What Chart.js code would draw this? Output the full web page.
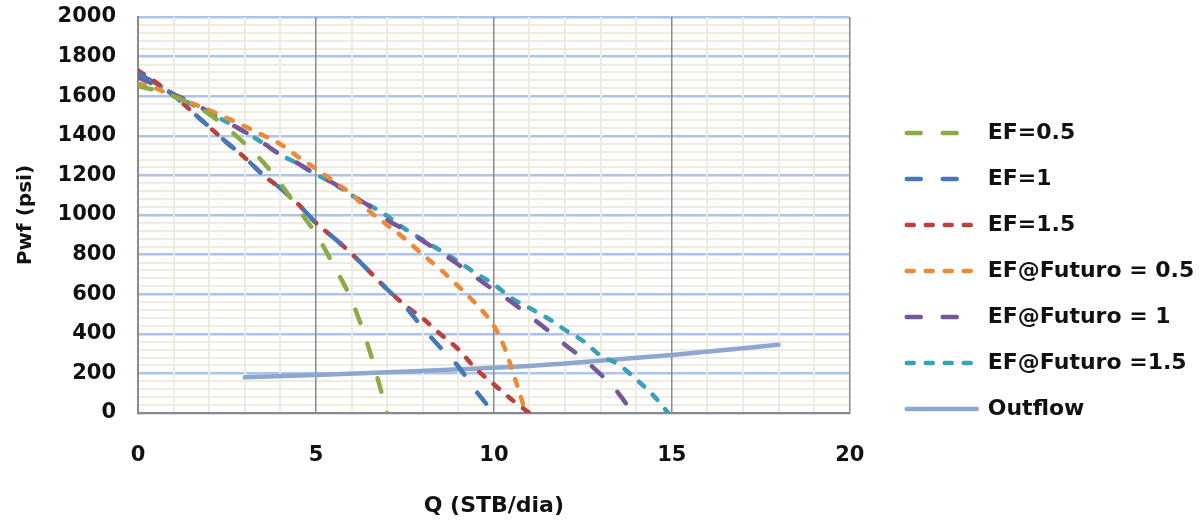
<!DOCTYPE html>
<html>
<head>
<meta charset="utf-8">
<script src="https://cdn.jsdelivr.net/npm/chart.js@4.4.0/dist/chart.umd.min.js"></script>
<style>
  html, body { margin: 0; background: #fff; }
  #wrap { width: 1203px; height: 521px; }
</style>
</head>
<body>
<div id="wrap"><canvas id="ipr"></canvas></div>
<script>
// IPR por eficiencia de flujo (actual y futuro) y curva de outflow
const qEF05 = [0, 0.5, 1, 1.5, 2, 2.5, 3, 3.5, 4, 4.5, 5, 5.5, 6, 6.5, 7];
const pEF05 = [1650, 1630, 1600, 1560, 1510, 1440, 1360, 1270, 1160, 1030, 905, 745, 570, 320, 0];

const qEF1 = [0, 0.5, 1, 1.5, 2, 2.5, 3, 3.5, 4, 4.5, 5, 5.5, 6, 6.5, 7, 7.5, 8, 8.5, 9, 9.5, 10];
const pEF1 = [1715, 1665, 1605, 1525, 1445, 1365, 1290, 1205, 1135, 1055, 960, 885, 805, 715, 625, 540, 430, 330, 235, 110, 0];

const qEF15 = [0, 0.5, 1, 1.5, 2, 2.5, 3, 3.5, 4, 4.5, 5, 5.5, 6, 6.5, 7, 7.5, 8, 8.5, 9, 9.5, 10, 10.5, 11];
const pEF15 = [1730, 1670, 1605, 1525, 1445, 1365, 1290, 1205, 1135, 1055, 960, 885, 805, 715, 625, 545, 478, 398, 322, 222, 145, 68, 0];

const qFut05 = [0, 0.5, 1, 1.5, 2, 2.5, 3, 3.5, 4, 4.5, 5, 5.5, 6, 6.5, 7, 7.5, 8, 8.5, 9, 9.5, 10, 10.3, 10.6, 10.9];
const pFut05 = [1665, 1640, 1600, 1565, 1530, 1490, 1448, 1404, 1358, 1294, 1234, 1170, 1105, 1020, 950, 880, 800, 725, 640, 550, 440, 330, 170, 0];

const qFut1 = [0, 0.5, 1, 1.5, 2, 2.5, 3, 3.5, 4, 4.5, 5, 5.5, 6, 6.5, 7, 7.5, 8, 8.5, 9, 9.5, 10, 10.5, 11, 11.5, 12, 12.5, 13, 13.5, 13.9];
const pFut1 = [1695, 1655, 1610, 1570, 1520, 1470, 1420, 1365, 1305, 1260, 1205, 1160, 1100, 1045, 975, 925, 870, 810, 750, 685, 620, 560, 490, 420, 345, 275, 195, 100, 0];

const qFut15 = [0, 0.5, 1, 1.5, 2, 2.5, 3, 3.5, 4, 4.5, 5, 5.5, 6, 6.5, 7, 7.5, 8, 8.5, 9, 9.5, 10, 10.5, 11, 11.5, 12, 12.5, 13, 13.5, 14, 14.5, 14.9];
const pFut15 = [1710, 1665, 1610, 1560, 1515, 1470, 1420, 1364, 1305, 1258, 1205, 1160, 1100, 1050, 995, 930, 875, 820, 765, 705, 650, 580, 530, 480, 420, 365, 290, 245, 170, 85, 0];

const qOut = [3, 5, 7, 10, 12, 15, 18];
const pOut = [180, 192, 206, 228, 250, 293, 345];

const xTicks = [0, 5, 10, 15, 20];
const yTicks = [0, 200, 400, 600, 800, 1000, 1200, 1400, 1600, 1800, 2000];

const longDash = [14, 22];
const shortDash = [7, 12];

const pts = (q, p) => q.map((x, i) => ({ x: x, y: p[i] }));

function serie(label, q, p, color, dash) {
  return {
    label: label,
    data: pts(q, p),
    borderColor: color,
    backgroundColor: color,
    borderWidth: 4.5,
    borderDash: dash,
    borderCapStyle: 'round',
    pointRadius: 0,
    cubicInterpolationMode: 'monotone',
    fill: false
  };
}

const datasets = [
  serie('EF=0.5', qEF05, pEF05, '#8AAB46', longDash),
  serie('EF=1', qEF1, pEF1, '#4678B9', longDash),
  serie('EF=1.5', qEF15, pEF15, '#B9423F', shortDash),
  serie('EF@Futuro = 0.5', qFut05, pFut05, '#E98B3A', shortDash),
  serie('EF@Futuro = 1', qFut1, pFut1, '#76579A', longDash),
  serie('EF@Futuro =1.5', qFut15, pFut15, '#3BA1B6', shortDash),
  serie('Outflow', qOut, pOut, '#8DA7D1', [])
];

// la leyenda queda un poco separada del area de trazado y llega hasta el borde
const legendGap = {
  id: 'legendGap',
  afterLayout(chart) {
    const lg = chart.legend;
    lg.left = chart.chartArea.right + 33;
    lg.right = chart.width;
    lg.width = lg.right - lg.left;
    lg.top += 2; lg.bottom += 2;
  }
};

Chart.defaults.font.family = "'DejaVu Sans', sans-serif";
Chart.defaults.font.weight = 'bold';
Chart.defaults.color = '#111';

new Chart(document.getElementById('ipr'), {
  type: 'line',
  data: { datasets: datasets },
  plugins: [legendGap],
  options: {
    responsive: true,
    maintainAspectRatio: false,
    animation: false,
    layout: { padding: { top: 17, right: 70, bottom: 0, left: 0 } },
    plugins: {
      tooltip: { enabled: false },
      legend: {
        position: 'right',
        labels: {
          font: { size: 22, weight: 'bold' },
          color: '#111',
          padding: 24,
          usePointStyle: true,
          pointStyle: 'line',
          pointStyleWidth: 70,
          generateLabels(chart) {
            return Chart.defaults.plugins.legend.labels.generateLabels(chart).map((item) => {
              const ds = chart.data.datasets[item.datasetIndex];
              item.lineDash = ds.borderDash;
              item.lineWidth = ds.borderWidth;
              item.lineCap = 'round';
              item.strokeStyle = ds.borderColor;
              return item;
            });
          }
        }
      }
    },
    scales: {
      x: {
        type: 'linear',
        min: 0,
        max: 20,
        afterFit: (scale) => {
          scale.height = 108;
          scale.paddingLeft = 0;
          scale.paddingRight = 0;
        },
        ticks: {
          stepSize: 1,
          maxTicksLimit: 100,
          autoSkip: false,
          maxRotation: 0,
          padding: 30,
          font: { size: 21, weight: 'bold' },
          callback: (v) => (xTicks.includes(v) ? v : '')
        },
        grid: {
          drawTicks: false,
          color: (c) => (xTicks.includes(c.tick.value) ? '#8A8A8A' : '#EEEBE0'),
          lineWidth: (c) => (xTicks.includes(c.tick.value) ? 1.5 : 2)
        },
        border: { color: '#8A8A8A', width: 2 },
        title: {
          display: true,
          text: 'Q (STB/dia)',
          font: { size: 22, weight: 'bold' },
          padding: { top: 0, bottom: 2 }
        }
      },
      y: {
        min: 0,
        max: 2000,
        afterFit: (scale) => {
          scale.width = 138;
          scale.paddingTop = 0;
          scale.paddingBottom = 0;
        },
        ticks: {
          stepSize: 40,
          maxTicksLimit: 100,
          autoSkip: false,
          padding: 22,
          font: { size: 21, weight: 'bold' },
          callback: (v) => (yTicks.includes(v) ? v : '')
        },
        grid: {
          z: -2,
          drawTicks: false,
          color: (c) => (yTicks.includes(c.tick.value) ? '#ADC4EA' : '#EEEBE0'),
          lineWidth: (c) => (yTicks.includes(c.tick.value) ? 2.5 : 2)
        },
        border: { color: '#8A8A8A', width: 2 },
        title: {
          display: true,
          text: 'Pwf (psi)',
          font: { size: 20, weight: 'bold' },
          padding: { top: 14, bottom: 0 }
        }
      }
    }
  }
});
</script>
</body>
</html>
